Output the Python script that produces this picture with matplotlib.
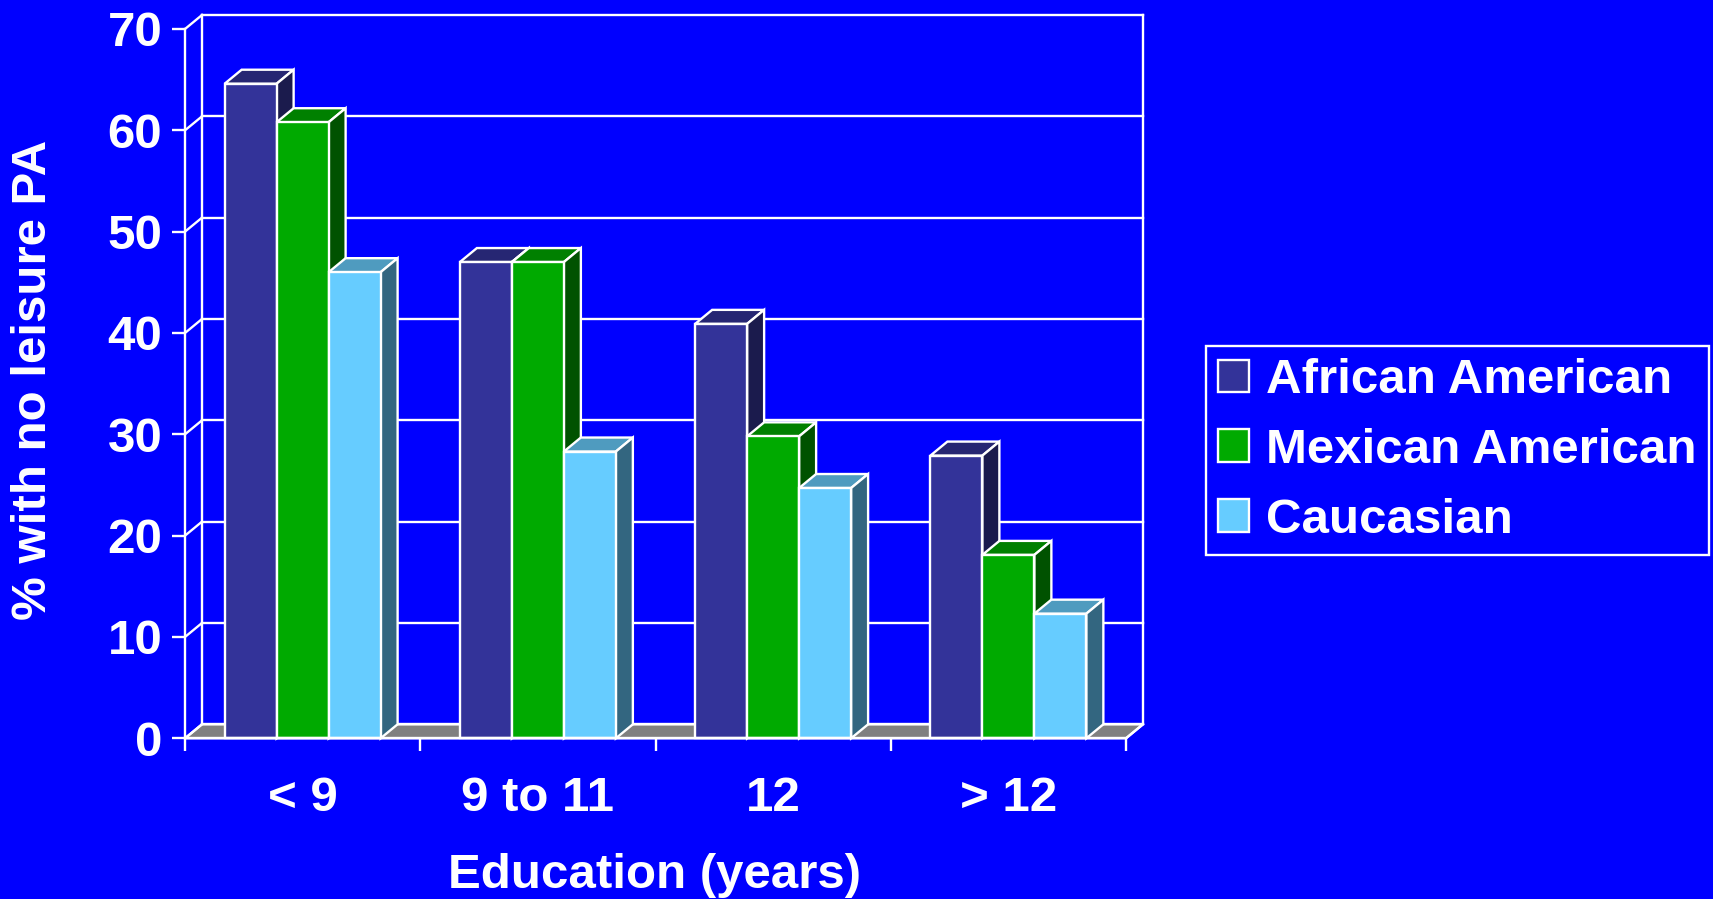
import numpy as np
import matplotlib
matplotlib.use('Agg')
import matplotlib.pyplot as plt
from matplotlib.patches import Polygon, Patch

plt.rcParams['font.family'] = ['Liberation Sans', 'DejaVu Sans']
plt.rcParams['font.weight'] = 'bold'
plt.rcParams['axes.labelweight'] = 'bold'

# data
categories = ['< 9', '9 to 11', '12', '> 12']
series = ['African American', 'Mexican American', 'Caucasian']
african_american = [64.6, 47.0, 40.9, 27.9]
mexican_american = [60.8, 47.0, 29.8, 18.1]
caucasian = [46.0, 28.3, 24.7, 12.3]
yticks = [0, 10, 20, 30, 40, 50, 60, 70]

values = [african_american, mexican_american, caucasian]
front_cols = ['#333399', '#00aa00', '#66ccff']
top_cols = ['#262673', '#008000', '#4f9bbf']
side_cols = ['#1b1b4d', '#005200', '#336680']
bg = '#0000ff'
W = 1713
H = 899

fig = plt.figure(figsize=(W / 100, H / 100), dpi=100, facecolor=bg)
# front plane of the axes in pixels: x 185..1126, y 29..738
ax = fig.add_axes([185 / W, (H - 738.3) / H, 941 / W, 709.3 / H])
ax.set_facecolor('none')
ax.set_xlim(0, 4)
ax.set_ylim(0, 70)

# depth offset of the pseudo 3d view
dx = 17 / 235.25
dy = 14 / 10.13
lw = 1.7

# floor
ax.add_patch(Polygon([(0, 0), (4, 0), (4 + dx, dy), (dx, dy)], closed=True,
                     facecolor='#808080', edgecolor='white', lw=lw, clip_on=False, zorder=1))
# back wall grid
for v in yticks:
    ax.plot([0, dx], [v, v + dy], color='white', lw=lw, clip_on=False, zorder=1)
    ax.plot([dx, 4 + dx], [v + dy, v + dy], color='white', lw=lw, clip_on=False, zorder=1)
ax.plot([dx, dx], [dy, 70 + dy], color='white', lw=lw, clip_on=False, zorder=1)
ax.plot([4 + dx, 4 + dx], [dy, 70 + dy], color='white', lw=lw, clip_on=False, zorder=1)

# bars
bw = 0.221
start = 0.5 - 1.5 * bw
z = 2
for i in range(len(categories)):
    for j in range(len(series)):
        v = values[j][i]
        x0 = i + start + j * bw
        ax.bar(x0, v, bw, align='edge', color=front_cols[j], edgecolor='white',
               lw=lw, zorder=z + 0.2, clip_on=False)
        ax.add_patch(Polygon([(x0, v), (x0 + bw, v), (x0 + bw + dx, v + dy), (x0 + dx, v + dy)],
                             closed=True, facecolor=top_cols[j], edgecolor='white', lw=lw,
                             clip_on=False, zorder=z))
        ax.add_patch(Polygon([(x0 + bw, 0), (x0 + bw + dx, dy), (x0 + bw + dx, v + dy), (x0 + bw, v)],
                             closed=True, facecolor=side_cols[j], edgecolor='white', lw=lw,
                             clip_on=False, zorder=z))
        z += 1

# axes, ticks and labels
for s in ['top', 'right']:
    ax.spines[s].set_visible(False)
for s in ['left', 'bottom']:
    ax.spines[s].set_color('white')
    ax.spines[s].set_linewidth(lw)
    ax.spines[s].set_zorder(50)
ax.plot([4, 4 + dx], [0, dy], color='white', lw=lw, clip_on=False, zorder=50)

ax.set_yticks(yticks)
ax.set_yticklabels([str(t) for t in yticks])
ax.tick_params(axis='y', colors='white', length=9.4, width=lw, pad=7, labelsize=35.5)
ax.set_xticks([0, 1, 2, 3, 4])
ax.set_xticklabels([])
ax.tick_params(axis='x', which='major', colors='white', length=9, width=lw, direction='out')
ax.set_xticks([0.5, 1.5, 2.5, 3.5], minor=True)
ax.set_xticklabels(categories, minor=True)
ax.tick_params(axis='x', which='minor', colors='white', length=0, pad=27.5, labelsize=35.5)

ax.set_ylabel('% with no leisure PA', color='white', fontsize=35.5, va='center')
ax.yaxis.set_label_coords(-0.1605, 0.505)
ax.set_xlabel('Education (years)', color='white', fontsize=35.5, va='center')
ax.xaxis.set_label_coords(0.4995, -0.193)

handles = [Patch(facecolor=c, edgecolor='white', lw=lw) for c in front_cols]
leg = fig.legend(handles, series, loc='center', bbox_to_anchor=(0.8506, 0.499),
                 fontsize=35.5, frameon=True, fancybox=False, facecolor=bg, edgecolor='white',
                 framealpha=1, handlelength=0.64, handleheight=0.64, handletextpad=0.33,
                 labelspacing=0.5, borderpad=0.25, borderaxespad=0)
leg.get_frame().set_linewidth(lw)
for t in leg.get_texts():
    t.set_color('white')

fig.savefig('out.png', dpi=100, facecolor=bg)
